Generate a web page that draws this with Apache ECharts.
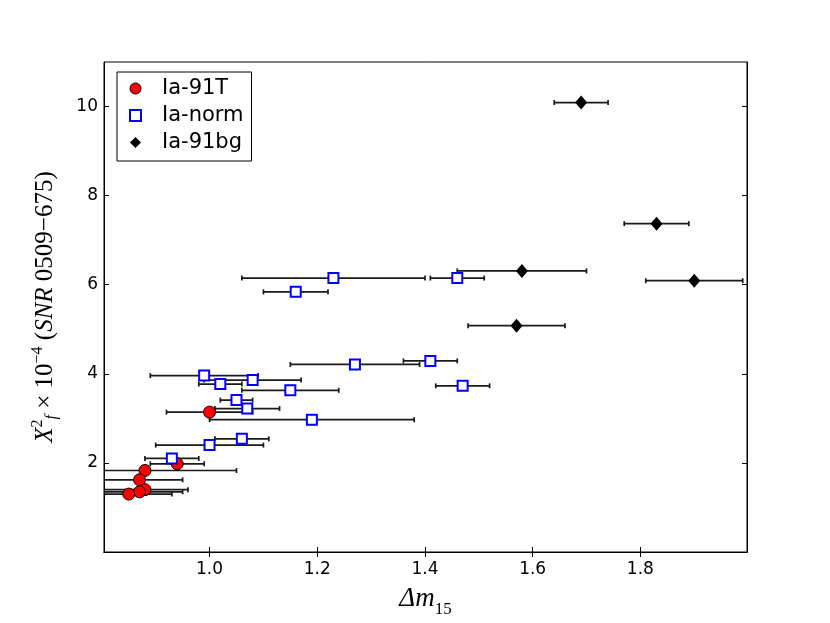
<!DOCTYPE html>
<html>
<head>
<meta charset="utf-8">
<script src="https://cdn.jsdelivr.net/npm/echarts@6/dist/echarts.min.js"></script>
<style>
html,body{margin:0;padding:0;background:#fff;}
#chart{width:830px;height:623px;}
</style>
</head>
<body>
<div id="chart"></div>
<script>
// ---- data ----
const xTicks = [1.0, 1.2, 1.4, 1.6, 1.8];
const yTicks = [2, 4, 6, 8, 10];

const t91_x   = [1.00, 0.94, 0.88, 0.87, 0.88, 0.87, 0.85];
const t91_y   = [3.14, 1.98, 1.83, 1.62, 1.40, 1.35, 1.30];
const t91_err = [0.08, 0.05, 0.17, 0.08, 0.08, 0.08, 0.08];

const norm_x   = [1.27, 0.99, 1.08, 1.02, 1.15, 1.05, 1.07, 1.19, 1.06, 1.00, 0.93, 1.23, 1.46, 1.16, 1.41, 1.47];
const norm_y   = [4.21, 3.96, 3.86, 3.77, 3.63, 3.41, 3.22, 2.97, 2.54, 2.40, 2.10, 6.15, 6.15, 5.84, 4.29, 3.73];
const norm_err = [0.12, 0.10, 0.09, 0.04, 0.09, 0.03, 0.06, 0.19, 0.05, 0.10, 0.05, 0.17, 0.05, 0.06, 0.05, 0.05];

const bg_x   = [1.69, 1.83, 1.58, 1.90, 1.57];
const bg_y   = [10.09, 7.37, 6.31, 6.09, 5.08];
const bg_err = [0.05, 0.06, 0.12, 0.09, 0.09];

function rows(xs, ys, es) { return xs.map((x, i) => [x, ys[i], es[i]]); }

function errRender(params, api) {
  const x = api.value(0), y = api.value(1), e = api.value(2);
  const a = api.coord([x - e, y]);
  const b = api.coord([x + e, y]);
  const cs = params.coordSys;
  const L = cs.x, R = cs.x + cs.width;
  const children = [];
  const x1 = Math.max(L, a[0]), x2 = Math.min(R, b[0]);
  const st = { stroke: '#1a1a1a', lineWidth: 1.7 };
  children.push({ type: 'line', shape: { x1: x1, y1: a[1], x2: x2, y2: b[1] }, style: st });
  const cap = 2.5;
  if (a[0] >= L) children.push({ type: 'line', shape: { x1: a[0], y1: a[1] - cap, x2: a[0], y2: a[1] + cap }, style: st });
  if (b[0] <= R) children.push({ type: 'line', shape: { x1: b[0], y1: b[1] - cap, x2: b[0], y2: b[1] + cap }, style: st });
  return { type: 'group', children: children };
}

function errSeries(name, data) {
  return { type: 'custom', name: name, renderItem: errRender, data: data, silent: true,
           encode: { x: 0, y: 1 }, animation: false };
}

const chart = echarts.init(document.getElementById('chart'), null, { renderer: 'canvas' });

const tickFont = { fontFamily: 'DejaVu Sans', fontSize: 17, color: '#000' };

const option = {
  backgroundColor: '#fff',
  animation: false,
  grid: { left: 104, right: 83, top: 62, bottom: 62, show: true, borderColor: '#000', borderWidth: 1, backgroundColor: '#fff' },
  legend: {
    left: 117, top: 72, orient: 'vertical',
    backgroundColor: '#fff', borderColor: '#000', borderWidth: 1,
    padding: [6, 8, 8, 12], itemGap: 6, itemWidth: 11, itemHeight: 11,
    formatter: function (n) { return '{g|}{n|' + n + '}'; },
    textStyle: { rich: { g: { width: 16 }, n: { fontFamily: 'DejaVu Sans', fontSize: 21, lineHeight: 20, color: '#000' } } },
    data: [
      { name: 'Ia-91T', icon: 'circle', itemStyle: { color: '#ff0000', borderColor: '#000', borderWidth: 1 } },
      { name: 'Ia-norm', icon: 'rect', itemStyle: { color: '#fff', borderColor: '#0000ff', borderWidth: 2 } },
      { name: 'Ia-91bg', icon: 'diamond', itemStyle: { color: '#000', borderColor: '#000', borderWidth: 0 } }
    ],
    selectedMode: false
  },
  xAxis: [{
    type: 'value', min: 0.804, max: 1.998, position: 'bottom',
    splitLine: { show: false },
    axisLine: { show: true, lineStyle: { color: '#000', width: 1 } },
    axisTick: { show: true, inside: true, length: 5, customValues: xTicks, lineStyle: { color: '#000' } },
    axisLabel: Object.assign({ customValues: xTicks, margin: 9, formatter: v => v.toFixed(1) }, tickFont),
    name: '{it|Δm}{sub|15}', nameLocation: 'middle', nameGap: 28,
    nameTextStyle: { rich: {
      it: { fontFamily: 'Liberation Serif', fontStyle: 'italic', fontSize: 27, color: '#000', lineHeight: 32, verticalAlign: 'bottom' },
      sub: { fontFamily: 'Liberation Serif', fontSize: 17, color: '#000', lineHeight: 32, verticalAlign: 'bottom', padding: [0, 0, -6, 0] }
    } }
  }, {
    type: 'value', min: 0.804, max: 1.998, position: 'top',
    splitLine: { show: false },
    axisLine: { show: true, lineStyle: { color: '#000', width: 1 } },
    axisTick: { show: true, inside: true, length: 5, customValues: xTicks, lineStyle: { color: '#000' } },
    axisLabel: { show: false }
  }],
  yAxis: [{
    type: 'value', min: 0, max: 11, position: 'left',
    splitLine: { show: false },
    axisLine: { show: true, lineStyle: { color: '#000', width: 1 } },
    axisTick: { show: true, inside: true, length: 5, customValues: yTicks, lineStyle: { color: '#000' } },
    axisLabel: Object.assign({ customValues: yTicks, margin: 6 }, tickFont),
    name: '{it|X}{sup|2}{sub|f}{n| × 10}{sup|−4}{n| (}{it|SNR}{n| 0509−675)}',
    nameLocation: 'middle', nameGap: 44, nameRotate: 90,
    nameTextStyle: { rich: {
      it: { fontFamily: 'Liberation Serif', fontStyle: 'italic', fontSize: 25, color: '#000', lineHeight: 30 },
      n: { fontFamily: 'Liberation Serif', fontSize: 25, color: '#000', lineHeight: 30 },
      sup: { fontFamily: 'Liberation Serif', fontSize: 16, color: '#000', lineHeight: 30, verticalAlign: 'top' },
      sub: { fontFamily: 'Liberation Serif', fontStyle: 'italic', fontSize: 16, color: '#000', lineHeight: 30, verticalAlign: 'bottom' }
    } }
  }, {
    type: 'value', min: 0, max: 11, position: 'right',
    splitLine: { show: false },
    axisLine: { show: true, lineStyle: { color: '#000', width: 1 } },
    axisTick: { show: true, inside: true, length: 5, customValues: yTicks, lineStyle: { color: '#000' } },
    axisLabel: { show: false }
  }],
  series: [
    errSeries('e91T', rows(t91_x, t91_y, t91_err)),
    { type: 'scatter', name: 'Ia-91T', data: rows(t91_x, t91_y, t91_err), symbol: 'circle', symbolSize: 12,
      itemStyle: { color: '#ff0000', borderColor: '#000', borderWidth: 1, opacity: 1 }, silent: true },
    errSeries('enorm', rows(norm_x, norm_y, norm_err)),
    { type: 'scatter', name: 'Ia-norm', data: rows(norm_x, norm_y, norm_err), symbol: 'rect', symbolSize: 10,
      itemStyle: { color: '#fff', borderColor: '#0000ff', borderWidth: 2, opacity: 1 }, silent: true },
    errSeries('ebg', rows(bg_x, bg_y, bg_err)),
    { type: 'scatter', name: 'Ia-91bg', data: rows(bg_x, bg_y, bg_err), symbol: 'diamond', symbolSize: [12, 14],
      itemStyle: { color: '#000', opacity: 1 }, silent: true }
  ]
};
chart.setOption(option);
</script>
</body>
</html>
